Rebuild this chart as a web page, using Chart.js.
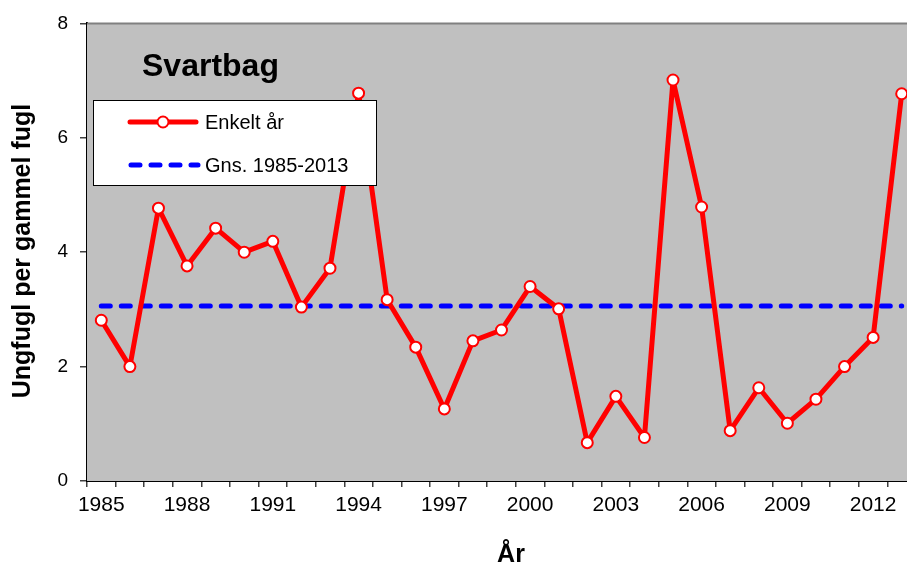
<!DOCTYPE html>
<html><head><meta charset="utf-8">
<script src="https://cdn.jsdelivr.net/npm/chart.js@4.4.1/dist/chart.umd.min.js"></script>
<style>
html,body{margin:0;padding:0;background:#fff;overflow:hidden;width:907px;height:568px}
#wrap{position:relative;width:930px;height:568px}
canvas{display:block}
</style></head>
<body><div id="wrap"><canvas id="c" width="930" height="568"></canvas></div>
<script>
const years = ['1985','1986','1987','1988','1989','1990','1991','1992','1993','1994','1995','1996','1997','1998','1999','2000','2001','2002','2003','2004','2005','2006','2007','2008','2009','2010','2011','2012','2013'];
const enkeltAar = [2.81,2.00,4.77,3.76,4.42,4.00,4.19,3.04,3.72,6.78,3.17,2.34,1.26,2.45,2.64,3.40,3.01,0.67,1.48,0.76,7.01,4.79,0.88,1.63,1.01,1.43,2.00,2.51,6.77];
const gns = [3.06,3.06,3.06,3.06,3.06,3.06,3.06,3.06,3.06,3.06,3.06,3.06,3.06,3.06,3.06,3.06,3.06,3.06,3.06,3.06,3.06,3.06,3.06,3.06,3.06,3.06,3.06,3.06,3.06];
const yTicks = [0,2,4,6,8];
const legendLabels = ['Enkelt år','Gns. 1985-2013'];
const chartTitle = 'Svartbag';
const yTitle = 'Ungfugl per gammel fugl';
const xTitle = 'År';

const FONT = "'Liberation Sans', Arial, sans-serif";

const deco = {
  id:'deco',
  beforeDatasetsDraw(chart){
    const {ctx, chartArea:a} = chart;
    ctx.save();
    ctx.fillStyle = '#C0C0C0';
    ctx.fillRect(a.left, a.top, a.right-a.left, a.bottom-a.top);
    ctx.strokeStyle = '#808080';
    ctx.lineWidth = 2;
    ctx.beginPath(); ctx.moveTo(a.left, a.top); ctx.lineTo(a.right, a.top); ctx.stroke();
    ctx.fillStyle = '#000';
    ctx.font = "bold 32px " + FONT;
    ctx.textBaseline = 'alphabetic';
    ctx.textAlign = 'left';
    ctx.fillText(chartTitle, 142, 76);
    ctx.restore();
  },
  afterDatasetsDraw(chart){
    const {ctx} = chart;
    ctx.save();
    ctx.fillStyle = '#fff';
    ctx.fillRect(93, 100, 284, 86);
    ctx.strokeStyle = '#000';
    ctx.lineWidth = 1;
    ctx.strokeRect(93.5, 100.5, 283, 85);
    ctx.strokeStyle = '#FF0000';
    ctx.lineWidth = 5;
    ctx.lineCap = 'round';
    ctx.beginPath(); ctx.moveTo(130, 122); ctx.lineTo(196, 122); ctx.stroke();
    ctx.beginPath(); ctx.arc(163, 122, 5.5, 0, Math.PI*2);
    ctx.fillStyle = '#fff'; ctx.fill();
    ctx.lineWidth = 2; ctx.stroke();
    ctx.strokeStyle = '#0000FF';
    ctx.lineWidth = 5;
    ctx.setLineDash([9,11]);
    ctx.beginPath(); ctx.moveTo(131, 165); ctx.lineTo(198, 165); ctx.stroke();
    ctx.setLineDash([]);
    ctx.fillStyle = '#000';
    ctx.font = "20px " + FONT;
    ctx.textBaseline = 'middle';
    ctx.textAlign = 'left';
    ctx.fillText(legendLabels[0], 205, 123);
    ctx.fillText(legendLabels[1], 205, 166);
    ctx.restore();
  },
  afterDraw(chart){
    const {ctx} = chart;
    ctx.save();
    ctx.fillStyle = '#000';
    ctx.font = "bold 25px " + FONT;
    ctx.textAlign = 'center';
    ctx.textBaseline = 'middle';
    ctx.translate(23, 251);
    ctx.rotate(-Math.PI/2);
    ctx.fillText(yTitle, 0, 0);
    ctx.restore();
    ctx.save();
    ctx.fillStyle = '#000';
    ctx.font = "bold 25px " + FONT;
    ctx.textAlign = 'center';
    ctx.textBaseline = 'middle';
    ctx.fillText(xTitle, 511, 555);
    ctx.restore();
  }
};

new Chart(document.getElementById('c'), {
  type:'line',
  data:{
    labels: years,
    datasets:[
      {label:legendLabels[0], data:enkeltAar, borderColor:'#FF0000', borderWidth:5, pointRadius:5.5, pointBorderWidth:2,
       pointBackgroundColor:'#FFFFFF', pointBorderColor:'#FF0000', tension:0, order:0, borderJoinStyle:'round'},
      {label:legendLabels[1], data:gns, borderColor:'#0000FF', borderWidth:5, borderDash:[9,11], borderCapStyle:'round',
       pointRadius:0, tension:0, order:1}
    ]
  },
  options:{
    responsive:false, animation:false, devicePixelRatio:1,
    layout:{padding:{top:20,right:14,left:0,bottom:0}},
    plugins:{legend:{display:false}, tooltip:{enabled:false}, title:{display:false}},
    scales:{
      x:{
        type:'category', offset:true,
        grid:{offset:true, drawOnChartArea:false, drawTicks:true, tickLength:6, color:'#404040', lineWidth:1.5},
        border:{display:true, color:'#000', width:2},
        ticks:{autoSkip:false, maxRotation:0, minRotation:0, padding:6, color:'#000',
          font:{family:FONT, size:21},
          callback:function(v,i){ return i%3===0 ? this.getLabelForValue(v) : ''; }},
        afterFit(s){ s.height = 87; }
      },
      y:{
        min:0, max:8,
        afterBuildTicks(s){ s.ticks = yTicks.map(v=>({value:v})); },
        grid:{drawOnChartArea:false, drawTicks:true, tickLength:7, color:'#404040', lineWidth:1.5},
        border:{display:true, color:'#000', width:2},
        ticks:{padding:12, color:'#000', font:{family:FONT, size:19}},
        afterFit(s){ s.width = 87; }
      }
    }
  },
  plugins:[deco]
});
</script>
</body></html>
